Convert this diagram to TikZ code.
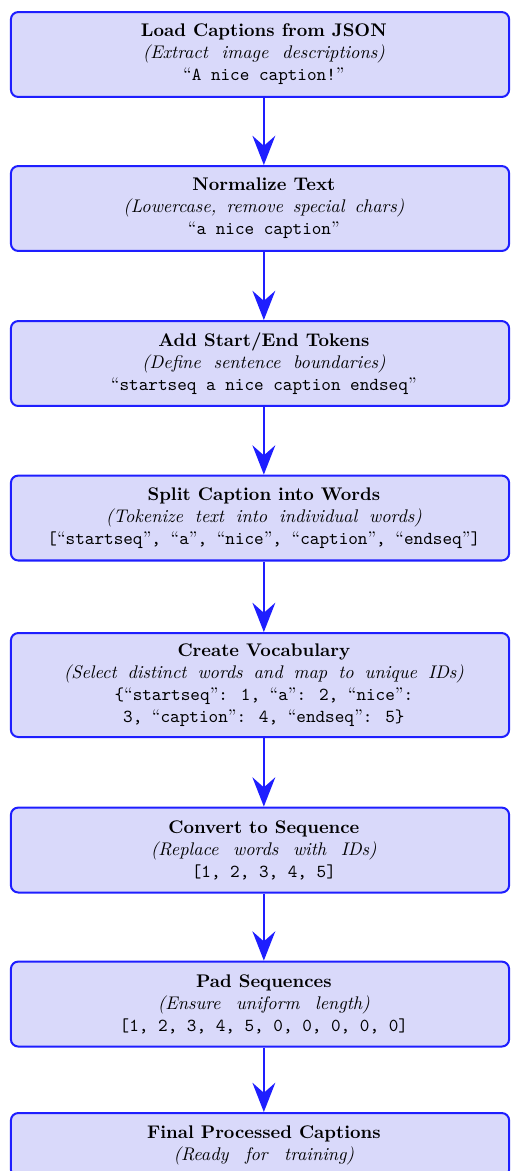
\documentclass[tikz,border=0pt]{standalone}
\usetikzlibrary{arrows.meta}

\definecolor{flowblue}{RGB}{30,30,255}
\definecolor{boxfill}{RGB}{217,217,250}

% italic note line with a given interword space
\newcommand\note[2]{{\itshape\spaceskip=#1\relax #2}}
\newcommand\q[1]{``\texttt{#1}''}

\tikzset{
  stagebox/.style={draw=flowblue, line width=1.1pt, fill=boxfill,
    rounded corners=4pt, minimum width=272.2pt, inner sep=0pt},
  stagetext/.style={align=center, inner sep=0pt, font=\normalsize},
  flow/.style={draw=flowblue, line width=1pt,
    -{Stealth[length=16pt, width=12.5pt, inset=5.5pt]}},
}

\begin{document}
\begin{tikzpicture}
\useasboundingbox (0,0) rectangle (279.2pt,-639.8pt);

% stage boxes
\node[stagebox, minimum height=46.4pt] (b1) at (142.06pt,-29.78pt) {};
\node[stagebox, minimum height=46.4pt] (b2) at (142.06pt,-113.92pt) {};
\node[stagebox, minimum height=46.4pt] (b3) at (142.06pt,-198.62pt) {};
\node[stagebox, minimum height=46.4pt] (b4) at (142.06pt,-283.04pt) {};
\node[stagebox, minimum height=56.8pt] (b5) at (142.06pt,-374.28pt) {};
\node[stagebox, minimum height=46.4pt] (b6) at (142.06pt,-464.44pt) {};
\node[stagebox, minimum height=46.4pt] (b7) at (142.06pt,-548.59pt) {};
\node[stagebox, minimum height=35pt]   (b8) at (142.06pt,-625.63pt) {};

% stage texts
\node[stagetext] (t1) at ([xshift=2.1pt]b1.center) {\textbf{Load Captions from JSON}\\
  \note{7.5pt}{(Extract image descriptions)}\\
  \q{A nice caption!}};
\node[stagetext] (t2) at ([xshift=2.1pt]b2.center) {\textbf{Normalize Text}\\
  \note{5.5pt}{(Lowercase, remove special chars)}\\
  \q{a nice caption}};
\node[stagetext] (t3) at ([xshift=2.1pt]b3.center) {\textbf{Add Start/End Tokens}\\
  \note{7pt}{(Define sentence boundaries)}\\
  \q{startseq a nice caption endseq}};
\node[stagetext] (t4) at ([xshift=2.1pt]b4.center) {\textbf{Split Caption into Words}\\
  \note{6.5pt}{(Tokenize text into individual words)}\\
  \texttt{[}\q{startseq}\texttt{, }\q{a}\texttt{, }\q{nice}\texttt{, }\q{caption}\texttt{, }\q{endseq}\texttt{]}};
\node[stagetext] (t5) at ([xshift=2.1pt]b5.center) {\textbf{Create Vocabulary}\\
  \note{6pt}{(Select distinct words and map to unique IDs)}\\
  \texttt{\{}\q{startseq}\texttt{: 1, }\q{a}\texttt{: 2, }\q{nice}\texttt{:}\\
  \texttt{3, }\q{caption}\texttt{: 4, }\q{endseq}\texttt{: 5\}}};
\node[stagetext] (t6) at ([xshift=2.1pt]b6.center) {\textbf{Convert to Sequence}\\
  \note{8pt}{(Replace words with IDs)}\\
  \texttt{[1, 2, 3, 4, 5]}};
\node[stagetext] (t7) at ([xshift=2.1pt]b7.center) {\textbf{Pad Sequences}\\
  \note{8.5pt}{(Ensure uniform length)}\\
  \texttt{[1, 2, 3, 4, 5, 0, 0, 0, 0, 0]}};
\node[stagetext] (t8) at ([xshift=2.1pt]b8.center) {\textbf{Final Processed Captions}\\
  \note{9pt}{(Ready for training)}};

% connectors
\foreach \a/\b in {b1/b2, b2/b3, b3/b4, b4/b5, b5/b6, b6/b7, b7/b8}
  \draw[flow] ([xshift=2.1pt]\a.south) -- ([xshift=2.1pt]\b.north);
\end{tikzpicture}
\end{document}
